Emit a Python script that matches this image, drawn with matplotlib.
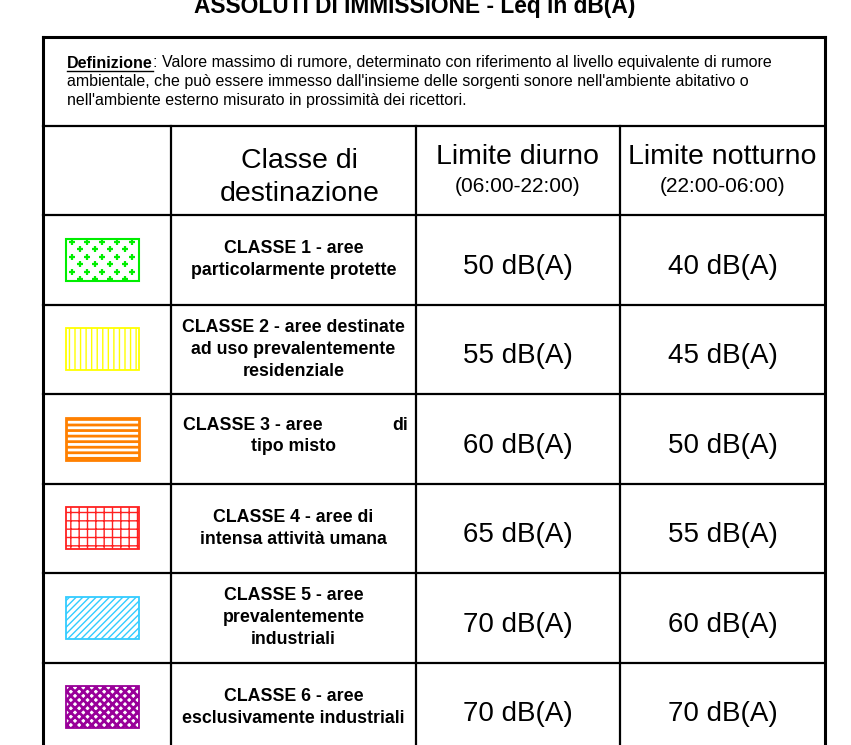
import matplotlib
matplotlib.use('Agg')
import matplotlib.pyplot as plt
from matplotlib.patches import Rectangle
import numpy as np

plt.rcParams['font.family'] = ['Liberation Sans', 'DejaVu Sans']

# ── Table content ─────────────────────────────────────────────────────────
titolo = "ASSOLUTI DI IMMISSIONE - Leq in dB(A)"
def_bold = "Definizione"
def_righe = [
    ": Valore massimo di rumore, determinato con riferimento al livello equivalente di rumore",
    "ambientale, che può essere immesso dall'insieme delle sorgenti sonore nell'ambiente abitativo o",
    "nell'ambiente esterno misurato in prossimità dei ricettori.",
]
intestazioni = ["Classe di\ndestinazione", "Limite diurno", "Limite notturno"]
fasce = ["(06:00-22:00)", "(22:00-06:00)"]
classi = [
    "CLASSE 1 - aree\nparticolarmente protette",
    "CLASSE 2 - aree destinate\nad uso prevalentemente\nresidenziale",
    "CLASSE 3 - aree\ntipo misto",
    "CLASSE 4 - aree di\nintensa attività umana",
    "CLASSE 5 - aree\nprevalentemente\nindustriali",
    "CLASSE 6 - aree\nesclusivamente industriali",
]
diurno = [50, 55, 60, 65, 70, 70]
notturno = [40, 45, 50, 55, 60, 70]
colori = ['#00ee00', '#ffff00', '#ff8000', '#ff2020', '#33ccff', '#990099']
retini = ['plus', '|||', '---', '++', '/////', 'xxxx']

# ── Layout (pixels) ───────────────────────────────────────────────────────
W, H = 851, 745
col_x = [43, 171, 416, 620, 825]
top, def_bot, head_bot = 37, 126, 215
row_h = 89.5

fig = plt.figure(figsize=(W / 100, H / 100), dpi=100)
ax = fig.add_axes([0, 0, 1, 1])
ax.set_xlim(0, W)
ax.set_ylim(H, 0)
ax.axis('off')

ax.text(415, 7, titolo, ha='center', va='center', fontsize=16.4,
        fontweight='bold')

# grid lines
bottom = head_bot + row_h * len(classi)
lw = 1.6
ax.plot([col_x[0], col_x[-1]], [top, top], color='black', lw=2.2)
for x in (col_x[0], col_x[-1]):
    ax.plot([x, x], [top, bottom], color='black', lw=2.2)
for x in col_x[1:-1]:
    ax.plot([x, x], [def_bot, bottom], color='black', lw=lw)
for i in range(len(classi) + 1):
    y = head_bot + row_h * i
    ax.plot([col_x[0], col_x[-1]], [y, y], color='black', lw=lw)
ax.plot([col_x[0], col_x[-1]], [def_bot, def_bot], color='black', lw=lw)

# definition text (bold + underlined lead word)
fs_def = 11.5
t = ax.text(67, 63, def_bold, fontsize=fs_def, fontweight='bold',
            va='center', ha='left')
fig.canvas.draw()
x_end = t.get_window_extent().x1
ax.plot([67, x_end], [70.5, 70.5], color='black', lw=1)
ax.text(x_end, 63, def_righe[0], fontsize=fs_def, va='center', ha='left')
ax.text(67, 81.5, def_righe[1], fontsize=fs_def, va='center', ha='left')
ax.text(67, 100, def_righe[2], fontsize=fs_def, va='center', ha='left')

# header
hy = (def_bot + head_bot) / 2
ax.text((col_x[1] + col_x[2]) / 2 + 6, hy + 7, intestazioni[0], ha='center',
        va='center', fontsize=20.5, linespacing=1.35)
for j in range(2):
    cx = (col_x[2 + j] + col_x[3 + j]) / 2
    ax.text(cx, 157, intestazioni[1 + j], ha='center', va='center',
            fontsize=20.5)
    ax.text(cx, 187, fasce[j], ha='center', va='center', fontsize=15)

# rows
sw_w, sw_h = 73, 42
fs_cl = 12.8
for i, (lab, d, n, c, h) in enumerate(zip(classi, diurno, notturno,
                                          colori, retini)):
    y0 = head_bot + row_h * i
    cy = y0 + row_h / 2
    sx = 66
    sy = cy - sw_h / 2
    if h == 'plus':
        ax.add_patch(Rectangle((sx, sy), sw_w, sw_h, facecolor='white',
                               edgecolor=c, lw=1.5))
        for r in range(6):
            yy = sy + 3 + r * 7.5
            offs = 7.5 if r % 2 else 0
            xs = np.arange(sx + 6 + offs, sx + sw_w - 2, 15)
            ax.plot(xs, [yy] * len(xs), ls='none', marker='+', color=c,
                    ms=5, mew=1.6)
    else:
        plt.rcParams['hatch.linewidth'] = 2.0 if h in ('---', 'xxxx') else 1.0
        ax.add_patch(Rectangle((sx, sy), sw_w, sw_h, facecolor='white',
                               edgecolor=c, hatch=h,
                               lw=2 if h == '---' else 1.3))

    tx = (col_x[1] + col_x[2]) / 2
    if i == 2:
        # justified first line as in the original
        riga1, riga2 = lab.split('\n')
        ax.text(183, cy - 13, riga1, ha='left', va='center', fontsize=fs_cl,
                fontweight='bold')
        ax.text(408, cy - 13, 'di', ha='right', va='center', fontsize=fs_cl,
                fontweight='bold')
        ax.text(tx, cy + 8, riga2, ha='center', va='center', fontsize=fs_cl,
                fontweight='bold')
    else:
        ax.text(tx, cy, lab, ha='center', va='center', fontsize=fs_cl,
                fontweight='bold', linespacing=1.38)

    ax.text((col_x[2] + col_x[3]) / 2, cy + 7, f"{d} dB(A)", ha='center',
            va='center', fontsize=20)
    ax.text((col_x[3] + col_x[4]) / 2, cy + 7, f"{n} dB(A)", ha='center',
            va='center', fontsize=20)

fig.savefig('out.png', dpi=100)
